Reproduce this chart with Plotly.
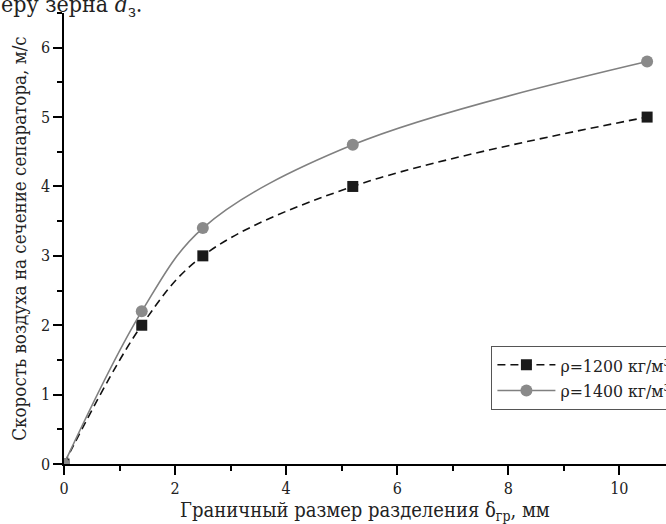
import plotly.graph_objects as go

x_1200 = [0, 1.4, 2.5, 5.2, 10.5]
y_1200 = [0, 2.0, 3.0, 4.0, 5.0]
x_1400 = [0, 1.4, 2.5, 5.2, 10.5]
y_1400 = [0, 2.2, 3.4, 4.6, 5.8]
name_1200 = "ρ=1200 кг/м³"
name_1400 = "ρ=1400 кг/м³"
x_title = "Граничный размер разделения δ<sub>гр</sub>, мм"
y_title = "Скорость воздуха на сечение сепаратора, м/с"
caption = "еру зерна <i>d</i><sub>з</sub>."

FONT = "DejaVu Serif Condensed, DejaVu Serif"

fig = go.Figure()
fig.add_trace(go.Scatter(
    x=x_1200, y=y_1200, name=name_1200, mode="lines+markers",
    line=dict(color="#111111", width=1.6, dash="8px,5px", shape="spline", smoothing=1.0),
    marker=dict(symbol="square", size=11, color="#1a1a1a"),
))
fig.add_trace(go.Scatter(
    x=x_1400, y=y_1400, name=name_1400, mode="lines+markers",
    line=dict(color="#808080", width=1.6, shape="spline", smoothing=1.0),
    marker=dict(symbol="circle", size=12, color="#8a8a8a"),
))

axis_common = dict(
    showgrid=False, zeroline=False, showline=True, linecolor="black", linewidth=1.5,
    ticks="outside", ticklen=9, tickwidth=1.5, tickcolor="black",
    tickfont=dict(family=FONT, size=16, color="#222"),
)
fig.update_xaxes(
    range=[0, 10.84], dtick=2, tick0=0,
    minor=dict(dtick=1, ticks="outside", ticklen=5, tickwidth=1.5, tickcolor="black"),
    title=dict(text=x_title, font=dict(family=FONT, size=20, color="#222"), standoff=3),
    **axis_common,
)
fig.update_yaxes(
    range=[0, 6.5], dtick=1, tick0=0,
    minor=dict(dtick=0.5, ticks="outside", ticklen=5, tickwidth=1.5, tickcolor="black"),
    title=dict(text=y_title, font=dict(family=FONT, size=18.6, color="#222"), standoff=9),
    **axis_common,
)

fig.add_annotation(
    text=caption, xref="paper", yref="paper", x=-0.108, y=1.016,
    xanchor="left", yanchor="middle", showarrow=False,
    font=dict(family=FONT, size=23, color="#222"),
)

fig.update_layout(
    width=666, height=524,
    margin=dict(l=64, r=0, t=13, b=60, autoexpand=False),
    paper_bgcolor="white", plot_bgcolor="white",
    font=dict(family=FONT, color="#222"),
    showlegend=True,
    legend=dict(
        x=0.71, y=0.262, xanchor="left", yanchor="top",
        bordercolor="#555", borderwidth=1, bgcolor="white",
        font=dict(family=FONT, size=17.5, color="#222"),
        itemwidth=58, tracegroupgap=2,
    ),
)

fig.write_html("out.html", config={"displayModeBar": False},
               post_script="document.body.style.margin='0';document.body.style.overflow='hidden';")
